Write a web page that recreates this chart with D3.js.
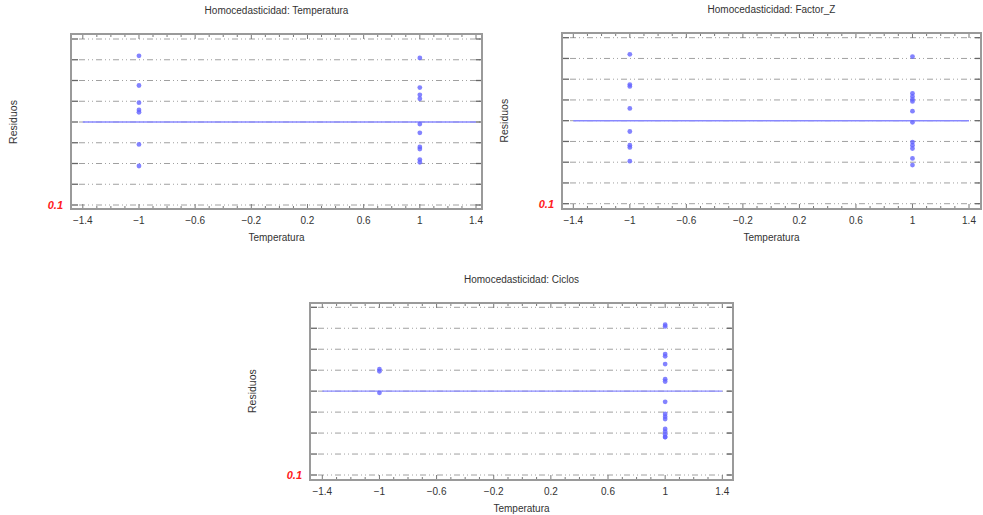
<!DOCTYPE html>
<html>
<head>
<meta charset="utf-8">
<script src="https://cdn.jsdelivr.net/npm/d3@7"></script>
<style>
  html, body { margin: 0; padding: 0; background: #fff; }
  svg { display: block; font-family: "Liberation Sans", Arial, sans-serif; }
</style>
</head>
<body>
<svg id="chart" width="983" height="515"></svg>
<script>
// Residuals by factor level (-1 / +1), one list per panel
const levelsTemperatura = [-1, -1, -1, -1, -1, -1, -1, 1, 1, 1, 1, 1, 1, 1, 1, 1, 1];
const residTemperatura = [3.19, 1.76, 0.93, 0.58, 0.47, -1.08, -2.12, 3.09, 1.66, 1.31, 1.12, -0.10, -0.52, -1.20, -1.30, -1.81, -1.94];

const levelsFactorZ = [-1, -1, -1, -1, -1, -1, -1, -1, 1, 1, 1, 1, 1, 1, 1, 1, 1, 1, 1, 1];
const residFactorZ = [3.20, 1.74, 1.65, 0.59, -0.52, -1.18, -1.29, -1.95, 3.09, 1.32, 1.17, 1.03, 0.93, 0.46, -0.08, -1.03, -1.18, -1.34, -1.82, -2.14];

const levelsCiclos = [-1, -1, -1, 1, 1, 1, 1, 1, 1, 1, 1, 1, 1, 1, 1, 1, 1, 1, 1];
const residCiclos = [1.05, 0.95, -0.08, 3.17, 3.09, 1.77, 1.66, 1.29, 0.57, 0.46, -0.51, -1.09, -1.22, -1.33, -1.80, -1.93, -2.06, -2.19, -2.19];

const titles = ["Homocedasticidad: Temperatura", "Homocedasticidad: Factor_Z", "Homocedasticidad: Ciclos"];
const xAxisTitle = "Temperatura";
const yAxisTitle = "Residuos";
const xTickValues = [-1.4, -1, -0.6, -0.2, 0.2, 0.6, 1, 1.4];
const xMinorTicks = d3.range(-14, 15).map(d => d / 10);
const yGridValues = [-4, -3, -2, -1, 0, 1, 2, 3, 4];
const yBottomLabel = "0.1";

// Panel frames: box edges and the pixel positions of the plotted domain
const panels = [
  { title: titles[0], xs: levelsTemperatura, ys: residTemperatura,
    box: { l: 71, r: 482, t: 34, b: 209 }, xr: [82.8, 476], yr: [205, 39] },
  { title: titles[1], xs: levelsFactorZ, ys: residFactorZ,
    box: { l: 562, r: 981, t: 33, b: 209 }, xr: [573.3, 969], yr: [203.7, 37.7] },
  { title: titles[2], xs: levelsCiclos, ys: residCiclos,
    box: { l: 310, r: 733, t: 303, b: 480 }, xr: [322.3, 722.3], yr: [475, 307.3] }
];

const svg = d3.select("#chart");

panels.forEach(p => {
  const g = svg.append("g");
  const x = d3.scaleLinear().domain([-1.4, 1.4]).range(p.xr);
  const y = d3.scaleLinear().domain([-4, 4]).range(p.yr);
  const b = p.box;
  const cx = (b.l + b.r) / 2;

  // dash-dot-dot horizontal grid
  g.append("g").selectAll("line").data(yGridValues).join("line")
    .attr("x1", b.l + 8).attr("x2", b.r - 2)
    .attr("y1", d => y(d)).attr("y2", d => y(d))
    .attr("stroke", "#a0a0a0").attr("stroke-width", 1)
    .attr("stroke-dasharray", "6,3,1,3,1,3");

  // left / right axis ticks at each grid level
  g.append("g").selectAll("line").data(yGridValues).join("line")
    .attr("x1", b.l + 1).attr("x2", b.l + 7)
    .attr("y1", d => y(d)).attr("y2", d => y(d))
    .attr("stroke", "#666").attr("stroke-width", 1.3);
  g.append("g").selectAll("line").data(yGridValues).join("line")
    .attr("x1", b.r - 6).attr("x2", b.r - 1)
    .attr("y1", d => y(d)).attr("y2", d => y(d))
    .attr("stroke", "#666").attr("stroke-width", 1.3);

  // top and bottom minor / major ticks
  const majorSet = new Set(xTickValues.map(v => v.toFixed(1)));
  [b.t, b.b].forEach((edge, i) => {
    const dir = i === 0 ? 1 : -1;
    g.append("g").selectAll("line").data(xMinorTicks).join("line")
      .attr("x1", d => x(d)).attr("x2", d => x(d))
      .attr("y1", edge + dir)
      .attr("y2", d => edge + dir * (majorSet.has(d.toFixed(1)) ? 5 : 3))
      .attr("stroke", "#777").attr("stroke-width", 1);
  });

  // zero reference line
  g.append("line")
    .attr("x1", x(-1.4)).attr("x2", x(1.4))
    .attr("y1", y(0)).attr("y2", y(0))
    .attr("stroke", "#8888ff").attr("stroke-width", 1.4);

  // residual points
  g.append("g").selectAll("circle").data(p.ys.map((v, i) => [p.xs[i], v])).join("circle")
    .attr("cx", d => x(d[0])).attr("cy", d => y(d[1]))
    .attr("r", 2.4)
    .attr("fill", "#6464ff").attr("fill-opacity", 0.8);

  // frame
  g.append("rect")
    .attr("x", b.l).attr("y", b.t)
    .attr("width", b.r - b.l).attr("height", b.b - b.t)
    .attr("fill", "none").attr("stroke", "#9a9a9a").attr("stroke-width", 2);

  // x tick labels
  g.append("g").selectAll("text").data(xTickValues).join("text")
    .attr("x", d => x(d)).attr("y", b.b + 15)
    .attr("text-anchor", "middle")
    .attr("font-size", 10).attr("fill", "#333")
    .text(d => d3.format("")(d));

  // lone y label at the bottom grid line
  g.append("text")
    .attr("x", b.l - 8).attr("y", y(-4) + 4)
    .attr("text-anchor", "end")
    .attr("font-size", 11).attr("font-weight", "bold").attr("font-style", "italic")
    .attr("fill", "#ff2020")
    .text(yBottomLabel);

  // titles
  g.append("text")
    .attr("x", cx).attr("y", b.t - 20)
    .attr("text-anchor", "middle")
    .attr("font-size", 10).attr("fill", "#333")
    .text(p.title);

  g.append("text")
    .attr("x", cx).attr("y", b.b + 32)
    .attr("text-anchor", "middle")
    .attr("font-size", 10).attr("fill", "#333")
    .text(xAxisTitle);

  g.append("text")
    .attr("transform", `translate(${b.l - 54},${y(0)}) rotate(-90)`)
    .attr("text-anchor", "middle")
    .attr("font-size", 10.5).attr("fill", "#333")
    .text(yAxisTitle);
});
</script>
</body>
</html>
